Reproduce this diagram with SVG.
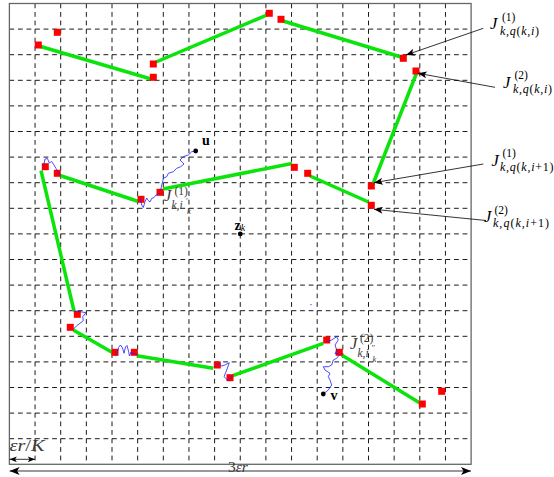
<svg xmlns="http://www.w3.org/2000/svg" width="554" height="477" viewBox="0 0 554 477">
<style>
.gv{stroke:#000;stroke-width:0.9;fill:none;stroke-dasharray:4.8 3.73}
.gh{stroke:#000;stroke-width:0.9;fill:none;stroke-dasharray:4.8 3.75}
.frame{fill:none;stroke:#666;stroke-width:1.3}
.seg{stroke:#0be40b;stroke-width:3.5;stroke-linecap:butt;fill:none}
.sq{fill:#ff0000}
.wig{stroke:#1f1fff;stroke-width:0.8;fill:none;stroke-linejoin:round;stroke-linecap:round}
.dot{fill:#000}
.mi{font-family:"Liberation Serif","DejaVu Serif",serif;font-style:italic;fill:#000}
.bf{font-family:"Liberation Serif","DejaVu Serif",serif;font-weight:bold;fill:#000}
.up{font-style:normal}
.gr{fill:#3a3a3a}
.ann{stroke:#000;stroke-width:0.8;fill:none}
</style>
<defs>
<marker id="ah" viewBox="0 0 10 8" refX="10" refY="4" markerWidth="10" markerHeight="7" markerUnits="userSpaceOnUse" orient="auto-start-reverse"><path d="M0,0 L10,4 L0,8 L2.5,4 z" fill="#000"/></marker>
<marker id="ahL" viewBox="0 0 10 8" refX="10" refY="4" markerWidth="12" markerHeight="8" markerUnits="userSpaceOnUse" orient="auto-start-reverse"><path d="M0,0 L10,4 L0,8 L2.5,4 z" fill="#000"/></marker>
<marker id="ahS" viewBox="0 0 10 8" refX="10" refY="4" markerWidth="8.5" markerHeight="5.8" markerUnits="userSpaceOnUse" orient="auto-start-reverse"><path d="M0,0 L10,4 L0,8 L2.5,4 z" fill="#000"/></marker>
</defs>
<rect width="554" height="477" fill="#fff"/>
<g id="grid">
<path class="gv" d="M35.05,3.5V464.3M60.7,3.5V464.3M86.35,3.5V464.3M112,3.5V464.3M137.65,3.5V464.3M163.3,3.5V464.3M188.95,3.5V464.3M214.6,3.5V464.3M240.25,3.5V464.3M265.9,3.5V464.3M291.55,3.5V464.3M317.2,3.5V464.3M342.85,3.5V464.3M368.5,3.5V464.3M394.15,3.5V464.3M419.8,3.5V464.3M445.45,3.5V464.3"/>
<path class="gh" d="M9.4,29.1H471.1M9.4,54.7H471.1M9.4,80.3H471.1M9.4,105.9H471.1M9.4,131.5H471.1M9.4,157.1H471.1M9.4,182.7H471.1M9.4,208.3H471.1M9.4,233.9H471.1M9.4,259.5H471.1M9.4,285.1H471.1M9.4,310.7H471.1M9.4,336.3H471.1M9.4,361.9H471.1M9.4,387.5H471.1M9.4,413.1H471.1M9.4,438.7H471.1"/>
<rect class="frame" x="9.4" y="3.5" width="461.7" height="460.8"/>
</g>
<g id="connectors">
<g id="green-segments">
<line class="seg" x1="39" y1="46" x2="151" y2="79"/>
<line class="seg" x1="156" y1="62" x2="267" y2="15"/>
<line class="seg" x1="283" y1="21" x2="401" y2="57"/>
<line class="seg" x1="417" y1="72" x2="373" y2="184"/>
<line class="seg" x1="163" y1="189" x2="292" y2="163.5"/>
<line class="seg" x1="310" y1="176" x2="368.5" y2="202"/>
<line class="seg" x1="60" y1="175.5" x2="138.5" y2="201.5"/>
<line class="seg" x1="41" y1="170.5" x2="74" y2="311"/>
<line class="seg" x1="73.3" y1="330" x2="116.7" y2="355"/>
<line class="seg" x1="136.7" y1="355.7" x2="213.3" y2="368.3"/>
<line class="seg" x1="232.7" y1="375.7" x2="323.3" y2="343.3"/>
<line class="seg" x1="341.7" y1="355" x2="424.3" y2="405.7"/>
</g>
</g>
<g id="squares">
<rect class="sq" x="34.8" y="41.5" width="7" height="7"/>
<rect class="sq" x="53.8" y="28.8" width="7" height="7"/>
<rect class="sq" x="149.8" y="60.5" width="7" height="7"/>
<rect class="sq" x="149.8" y="73.8" width="7" height="7"/>
<rect class="sq" x="265.8" y="9.8" width="7" height="7"/>
<rect class="sq" x="277.5" y="15.8" width="7" height="7"/>
<rect class="sq" x="399.8" y="54.8" width="7" height="7"/>
<rect class="sq" x="412.5" y="67.5" width="7" height="7"/>
<rect class="sq" x="290.8" y="163.8" width="7" height="7"/>
<rect class="sq" x="304.2" y="169.8" width="7" height="7"/>
<rect class="sq" x="367.8" y="182.5" width="7" height="7"/>
<rect class="sq" x="367.8" y="201.8" width="7" height="7"/>
<rect class="sq" x="41.8" y="163.2" width="7" height="7"/>
<rect class="sq" x="53.8" y="169.8" width="7" height="7"/>
<rect class="sq" x="137.5" y="195.8" width="7" height="7"/>
<rect class="sq" x="156.5" y="188.8" width="7" height="7"/>
<rect class="sq" x="73.8" y="310.8" width="7" height="7"/>
<rect class="sq" x="66.8" y="323.8" width="7" height="7"/>
<rect class="sq" x="111.5" y="348.8" width="7" height="7"/>
<rect class="sq" x="130.8" y="348.8" width="7" height="7"/>
<rect class="sq" x="213.8" y="361.5" width="7" height="7"/>
<rect class="sq" x="226.5" y="374.2" width="7" height="7"/>
<rect class="sq" x="323.2" y="336.5" width="7" height="7"/>
<rect class="sq" x="335.8" y="348.8" width="7" height="7"/>
<rect class="sq" x="418.8" y="400.5" width="7" height="7"/>
<rect class="sq" x="438.2" y="387.8" width="7" height="7"/>
</g>
<g id="wiggles">
<polyline class="wig" points="195.7,151 191.7,151.7 188.3,155 183.3,156.7 180,160 184,164 180.7,166.7 176.7,168.3 173.3,171.7 168.3,173.3 166.7,176.7 163.3,178.3 162.7,181.7 161.7,185 160.7,190"/>
<polyline class="wig" points="140.5,199 141.7,205 143.3,207.5 145,201.7 146.7,198 148.3,200.5 150,202 151.7,198.5 154,197.5 156,195 159.5,193.5"/>
<polyline class="wig" points="43.5,166.5 45,159 47.5,158.5 49.3,163 51.7,161.5 54,165 56,168.5 58.3,172 60,175"/>
<polyline class="wig" points="74,311 80,311.7 86,312.7 82.7,316.7 83.3,320.7 80,323.3 76.7,325.7 73.5,329"/>
<polyline class="wig" points="116.7,355 118.5,347.5 120.5,345 122.5,348 124,353.3 125.5,347 127,345.5 128.5,351 129.5,356 131,352 133,353.3 136.7,354.5"/>
<polyline class="wig" points="215,366.7 218.3,363.3 221.7,366 225,365 229.3,362.7 226.7,370 224,376.7 228.3,380.7 231.7,376.7"/>
<polyline class="wig" points="326.7,341.7 331.7,340 336.7,336.7 338.3,340 335,345 336.7,350 335,354 338.3,353.3"/>
<polyline class="wig" points="340,354 336.7,358.3 333.3,360 331.7,365 328.3,366.7 323.3,366.7 325,370 330,373.3 328.3,376.7 330,380 331.7,385 328.3,390 324,393.3"/>
<circle cx="311" cy="304.7" r="0.6" fill="#1f1fff"/>
</g>
<g id="node-u">
<circle class="dot" cx="195.7" cy="151" r="2.4"/>
<text class="bf" x="202" y="145" font-size="14">u</text>
</g>
<g id="node-zk">
<circle class="dot" cx="240.25" cy="233.9" r="2.4"/>
<text class="bf" x="234.5" y="229.5" font-size="14">z<tspan class="mi" font-weight="normal" font-size="10" dy="1.5">k</tspan></text>
</g>
<g id="node-v">
<circle class="dot" cx="323.3" cy="394" r="2.4"/>
<text class="bf" x="330.5" y="400" font-size="14">v</text>
</g>
<g id="label-J1-ik">
<text class="mi gr" x="164" y="201" font-size="16.5">J</text>
<text class="mi gr up" x="174.5" y="194.5" font-size="11.5">(1)</text>
<text class="mi gr" x="171.5" y="209" font-size="11.5">k,i</text>
<text class="mi gr up" x="186" y="203.5" font-size="8.5">′</text>
<text class="mi gr" x="187" y="213.5" font-size="8.5">k</text>
</g>
<g id="label-J2-ik">
<text class="mi gr" x="350" y="348.5" font-size="16.5">J</text>
<text class="mi gr up" x="360" y="342" font-size="11.5">(2)</text>
<text class="mi gr" x="357.5" y="357" font-size="11.5">k,i</text>
<text class="mi gr up" x="371.5" y="351" font-size="8.5">′′</text>
<text class="mi gr" x="372.5" y="361.5" font-size="8.5">k</text>
</g>
<g id="label-Jq1-i">
<text class="mi" x="490" y="29" font-size="16.5">J</text>
<text class="mi up" x="502" y="20.5" font-size="11.5">(1)</text>
<text class="mi" x="500" y="34.5" font-size="12" textLength="39" lengthAdjust="spacing">k,q<tspan class="up">(</tspan>k,i<tspan class="up">)</tspan></text>
</g>
<g id="label-Jq2-i">
<text class="mi" x="503" y="87.5" font-size="16.5">J</text>
<text class="mi up" x="514.5" y="78.5" font-size="11.5">(2)</text>
<text class="mi" x="513" y="92.5" font-size="12" textLength="39" lengthAdjust="spacing">k,q<tspan class="up">(</tspan>k,i<tspan class="up">)</tspan></text>
</g>
<g id="label-Jq1-i1">
<text class="mi" x="491.5" y="166" font-size="16.5">J</text>
<text class="mi up" x="502.5" y="157" font-size="11.5">(1)</text>
<text class="mi" x="500" y="171" font-size="12" textLength="53.5" lengthAdjust="spacing">k,q<tspan class="up">(</tspan>k,i<tspan class="up">+1)</tspan></text>
</g>
<g id="label-Jq2-i1">
<text class="mi" x="484" y="222" font-size="16.5">J</text>
<text class="mi up" x="494.5" y="213.5" font-size="11.5">(2)</text>
<text class="mi" x="493" y="227" font-size="12" textLength="56" lengthAdjust="spacing">k,q<tspan class="up">(</tspan>k,i<tspan class="up">+1)</tspan></text>
</g>
<g id="annotation-arrows">
<line class="ann" x1="483.3" y1="28.3" x2="406" y2="55" marker-end="url(#ah)"/>
<line class="ann" x1="495" y1="87.3" x2="418" y2="73.3" marker-end="url(#ah)"/>
<line class="ann" x1="483.3" y1="164" x2="374" y2="182.7" marker-end="url(#ah)"/>
<line class="ann" x1="486" y1="220.5" x2="374" y2="209.3" marker-end="url(#ah)"/>
</g>
<g id="dimensions">
<line class="ann" x1="9.6" y1="459.3" x2="35" y2="459.3" marker-start="url(#ahS)" marker-end="url(#ahS)"/>
<line class="ann" x1="9.6" y1="471" x2="471" y2="471" marker-start="url(#ahL)" marker-end="url(#ahL)"/>
<text class="mi gr" x="9.5" y="451" font-size="16" textLength="35" lengthAdjust="spacingAndGlyphs">εr<tspan class="up">/</tspan>K</text>
<text class="mi gr" x="228" y="471.5" font-size="15.5"><tspan class="up">3</tspan>εr</text>
</g>
</svg>
